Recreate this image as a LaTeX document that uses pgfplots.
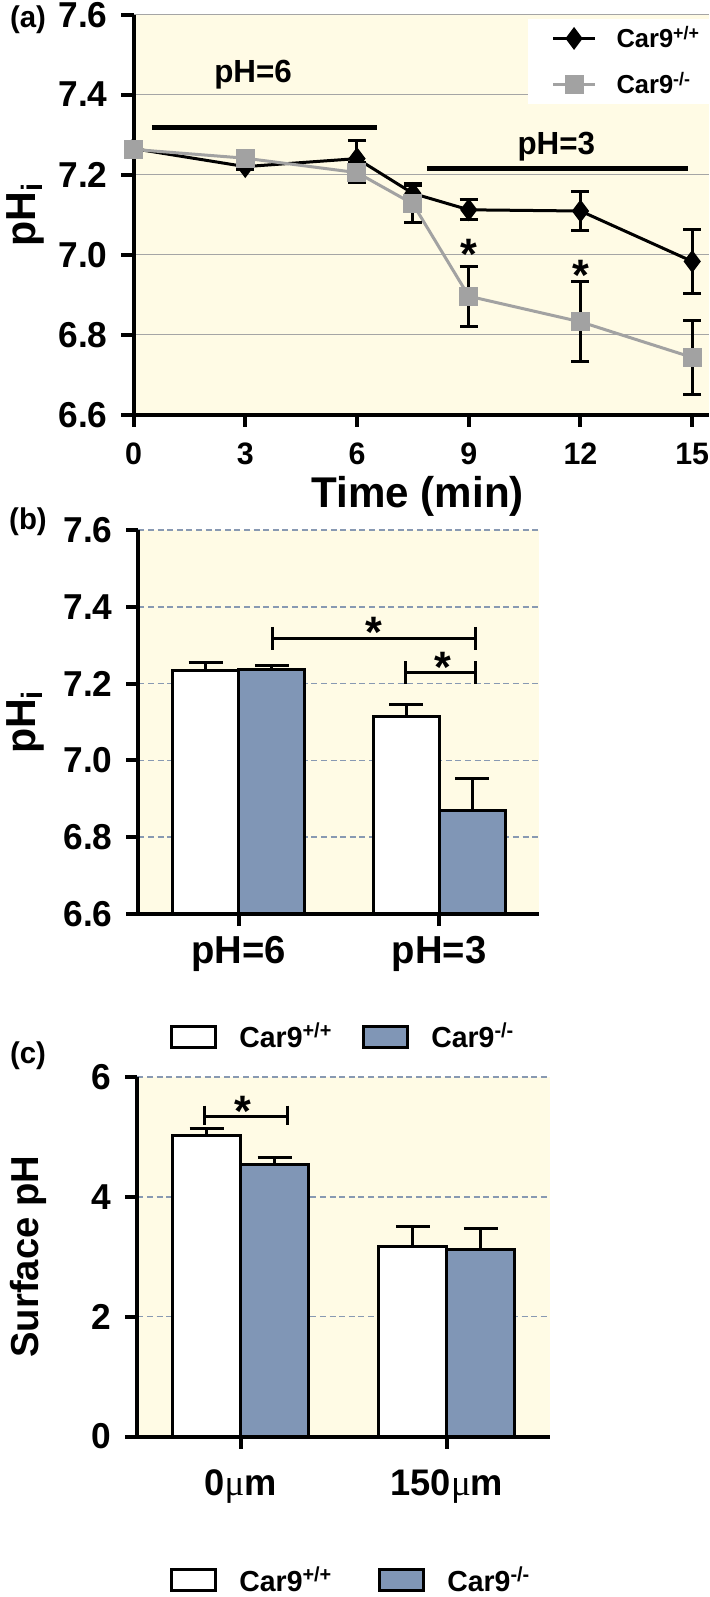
\documentclass[border=0pt]{standalone}
\usepackage{fontspec}
\setmainfont{Liberation Sans}[FakeStretch=0.98]
\newfontfamily\mufont{Liberation Serif}
\usepackage{pgfplots}
\pgfplotsset{compat=1.18}
\definecolor{bgy}{RGB}{255,251,229}
\definecolor{barblue}{RGB}{128,150,182}
\definecolor{grayser}{RGB}{162,162,162}
\definecolor{gridsolid}{RGB}{165,165,165}
\definecolor{griddash}{RGB}{136,153,178}
\pgfplotsset{
  panel/.style={
    scale only axis,
    axis x line=bottom, axis y line=left,
    axis line style={-, line width=2pt, black},
    tick style={line width=2pt, black},
    major tick length=6pt,
    tick align=outside,
    axis background/.style={fill=bgy},
    /pgf/number format/assume math mode=true,
    tick label style={font=\fontsize{18}{18}\selectfont\bfseries},
    yticklabel style={xshift=-3.5pt},
    label style={font=\fontsize{21}{21}\selectfont\bfseries},
    ymajorgrids,
  },
  barlegend/.style={
    ybar=0pt, bar width=0.33,
    legend image code/.code={\draw[##1] (0pt,-5.25pt) rectangle (22pt,5.25pt);},
    legend columns=2,
    legend style={draw=none, fill=none, inner sep=0pt, anchor=west,
      font=\fontsize{14.5}{14.5}\selectfont\bfseries,
      nodes={inner sep=0pt},
      /tikz/every odd column/.append style={column sep=11pt}},
  },
  barerr/.style={error bars/.cd, y dir=plus, y explicit,
      error bar style={line width=1.5pt, black},
      error mark options={rotate=90, mark size=8.5pt, line width=1.5pt, black}},
}
\begin{document}
\begin{tikzpicture}
\useasboundingbox (0pt,0pt) rectangle (354.5pt,-798.5pt);
\fill[white] (0pt,0pt) rectangle (354.5pt,-798.5pt);
\node[font=\fontsize{15}{15}\selectfont\bfseries] at (14pt,-10pt) {(a)};
\node[font=\fontsize{15}{15}\selectfont\bfseries] at (14pt,-261pt) {(b)};
\node[font=\fontsize{15}{15}\selectfont\bfseries] at (14pt,-528pt) {(c)};

% ---------------- panel (a)
\begin{axis}[panel,
  at={(66.75pt,-207.3pt)}, anchor=south west,
  width=287.75pt, height=200pt,
  xmin=0, xmax=15.45, ymin=6.6, ymax=7.6,
  xtick={0,3,6,9,12,15},
  ytick={6.6,6.8,7.0,7.2,7.4,7.6},
  xticklabel style={yshift=-4.5pt, font=\fontsize{15.5}{15.5}\selectfont\bfseries},
  yticklabel style={/pgf/number format/.cd, fixed, fixed zerofill, precision=1},
  major grid style={gridsolid, line width=0.75pt},
  xlabel={Time (min)},
  xlabel style={at={(axis description cs:0.494,-0.205)}, anchor=center, font=\fontsize{21.5}{21.5}\selectfont\bfseries},
  ylabel={pH\textsubscript{i}},
  ylabel style={at={(axis description cs:-0.188,0.5)}, anchor=center},
  clip=false,
  legend cell align=left,
  legend image code/.code={\draw[mark repeat=2, mark phase=2, #1] plot coordinates {(0pt,0pt) (10.5pt,0pt) (21pt,0pt)};},
  legend style={at={(rel axis cs:0.684,0.99)}, anchor=north west, fill=white, draw=none,
    font=\fontsize{13}{13}\selectfont\bfseries, inner xsep=12pt, inner ysep=3.5pt, row sep=10.5pt,
    nodes={inner sep=0pt},
    /tikz/every odd column/.append style={column sep=10pt}},
]
\addplot[black, line width=1.5pt, mark=diamond*, mark size=4.5pt, mark options={solid, fill=black},
  error bars/.cd, y dir=both, y explicit,
  error bar style={line width=1.5pt, black},
  error mark options={rotate=90, mark size=4.5pt, line width=1.5pt, black}]
  table[x=x, y=y, y error=e] {
x y e
0 7.265 0
3 7.220 0.006
6 7.240 0.045
7.5 7.153 0.024
9 7.112 0.025
12 7.109 0.048
15 6.983 0.080
};
\addlegendentry{Car9\textsuperscript{+/+}}
\addplot[grayser, line width=1.5pt, mark=square*, mark size=4pt, mark options={solid, fill=grayser},
  error bars/.cd, y dir=both, y explicit,
  error bar style={line width=1.5pt, black},
  error mark options={rotate=90, mark size=4.5pt, line width=1.5pt, black}]
  table[x=x, y=y, y error=e] {
x y e
0 7.263 0
3 7.241 0.005
6 7.205 0.025
7.5 7.127 0.046
9 6.896 0.075
12 6.832 0.100
15 6.743 0.093
};
\addlegendentry{Car9\textsuperscript{-/-}}
\draw[line width=2.5pt] (axis cs:0.49,7.318) -- (axis cs:6.55,7.318);
\node[font=\fontsize{16}{16}\selectfont\bfseries] at (axis cs:3.21,7.45) {pH=6};
\draw[line width=2.5pt] (axis cs:7.89,7.216) -- (axis cs:14.88,7.216);
\node[font=\fontsize{16}{16}\selectfont\bfseries] at (axis cs:11.35,7.27) {pH=3};
\node[font=\fontsize{22}{22}\selectfont\bfseries, yshift=-4.5pt] at (axis cs:9,7.022) {*};
\node[font=\fontsize{22}{22}\selectfont\bfseries, yshift=-4.5pt] at (axis cs:12,6.970) {*};
\end{axis}

% ---------------- panel (b)
\begin{axis}[panel, barlegend,
  at={(69.25pt,-457pt)}, anchor=south west,
  width=200.5pt, height=192pt,
  xmin=-0.5, xmax=1.5, ymin=6.6, ymax=7.6,
  xtick={0,1}, xticklabels={pH=6,pH=3},
  xticklabel style={font=\fontsize{19.5}{19.5}\selectfont\bfseries, yshift=-1.5pt},
  ytick={6.6,6.8,7.0,7.2,7.4,7.6},
  yticklabel style={/pgf/number format/.cd, fixed, fixed zerofill, precision=1},
  major grid style={griddash, line width=0.8pt, dash pattern=on 3pt off 1.8pt},
  ylabel={pH\textsubscript{i}},
  ylabel style={at={(axis description cs:-0.282,0.5)}, anchor=center},
  clip mode=individual,
  legend style={at={(rel axis cs:0.0786,-0.320)},
    /tikz/every even column/.append style={column sep=15pt}},
]
\addplot[fill=white, draw=black, line width=1.5pt, barerr]
  table[x=x, y=y, y error=e] {
x y e
0 7.235 0.019
1 7.114 0.032
};
\addlegendentry{Car9\textsuperscript{+/+}}
\addplot[fill=barblue, draw=black, line width=1.5pt, barerr]
  table[x=x, y=y, y error=e] {
x y e
0 7.237 0.010
1 6.870 0.084
};
\addlegendentry{Car9\textsuperscript{-/-}}
\draw[line width=2pt] (rel axis cs:0,0) -- (rel axis cs:1,0);
\draw[line width=1.5pt] (axis cs:0.17,7.348) -- (axis cs:0.17,7.288)
  (axis cs:0.17,7.318) -- (axis cs:1.18,7.318)
  (axis cs:1.18,7.348) -- (axis cs:1.18,7.288);
\draw[line width=1.5pt] (axis cs:0.83,7.258) -- (axis cs:0.83,7.199)
  (axis cs:0.83,7.229) -- (axis cs:1.18,7.229)
  (axis cs:1.18,7.258) -- (axis cs:1.18,7.199);
\node[font=\fontsize{22}{22}\selectfont\bfseries, yshift=-4.5pt] at (axis cs:0.675,7.356) {*};
\node[font=\fontsize{22}{22}\selectfont\bfseries, yshift=-4.5pt] at (axis cs:1.018,7.267) {*};
\end{axis}

% ---------------- panel (c)
\begin{axis}[panel, barlegend,
  at={(68.75pt,-718.25pt)}, anchor=south west,
  width=206.25pt, height=179.85pt,
  xmin=-0.5, xmax=1.5, ymin=0, ymax=6,
  xtick={0,1}, xticklabels={0{\mufont\mdseries μ}m,150{\mufont\mdseries μ}m},
  xticklabel style={font=\fontsize{18.5}{18.5}\selectfont\bfseries, yshift=-7pt},
  ytick={0,2,4,6},
  major grid style={griddash, line width=0.8pt, dash pattern=on 3pt off 1.8pt},
  ylabel={Surface pH},
  ylabel style={at={(axis description cs:-0.264,0.5)}, anchor=center, font=\fontsize{19.5}{19.5}\selectfont\bfseries},
  clip mode=individual,
  legend style={at={(rel axis cs:0.0788,-0.40)},
    /tikz/every even column/.append style={column sep=23pt}},
]
\addplot[fill=white, draw=black, line width=1.5pt, barerr]
  table[x=x, y=y, y error=e] {
x y e
0 5.02 0.11
1 3.17 0.34
};
\addlegendentry{Car9\textsuperscript{+/+}}
\addplot[fill=barblue, draw=black, line width=1.5pt, barerr]
  table[x=x, y=y, y error=e] {
x y e
0 4.53 0.12
1 3.115 0.36
};
\addlegendentry{Car9\textsuperscript{-/-}}
\draw[line width=2pt] (rel axis cs:0,0) -- (rel axis cs:1,0);
\draw[line width=1.5pt] (axis cs:-0.173,5.52) -- (axis cs:-0.173,5.195)
  (axis cs:-0.173,5.34) -- (axis cs:0.225,5.34)
  (axis cs:0.225,5.52) -- (axis cs:0.225,5.195);
\node[font=\fontsize{22}{22}\selectfont\bfseries, yshift=-4.5pt] at (axis cs:0.01,5.58) {*};
\end{axis}
\end{tikzpicture}
\end{document}
